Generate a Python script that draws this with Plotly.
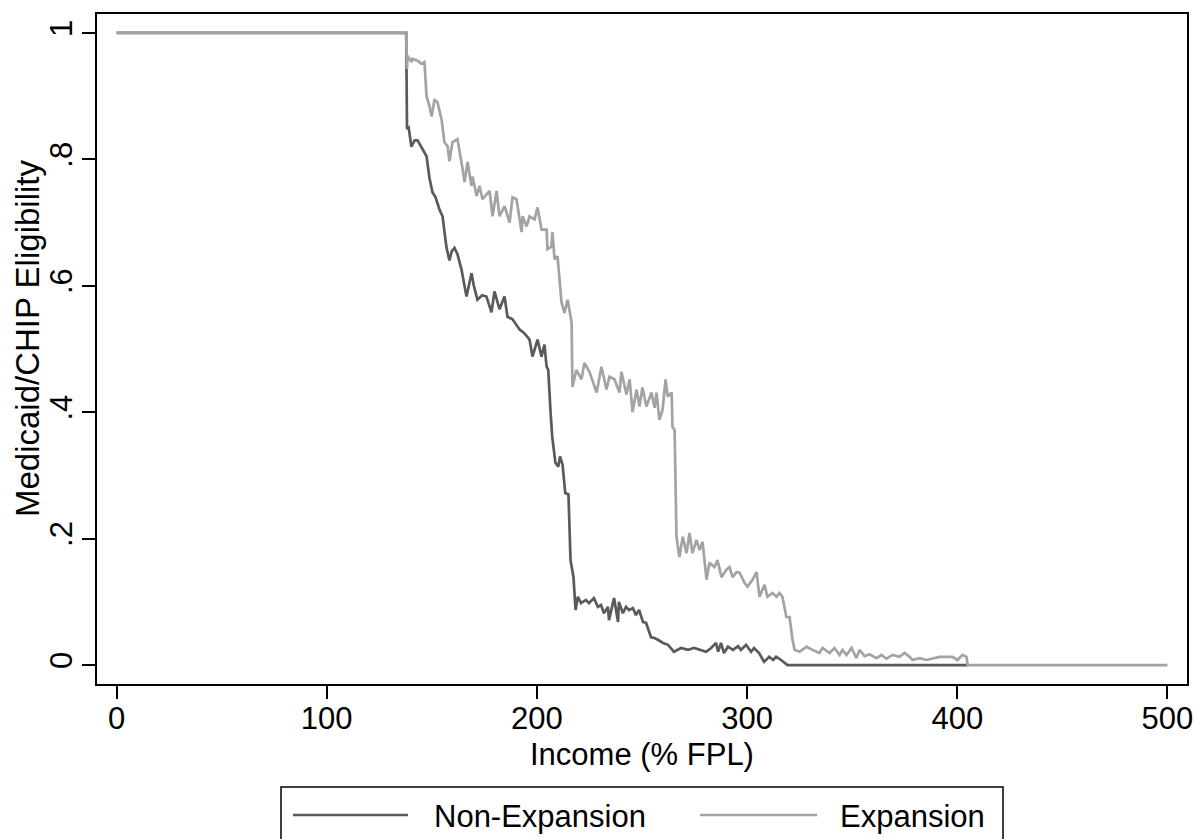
import plotly.graph_objects as go

# Non-Expansion states: eligibility share by income (% FPL)
nonexp_x = [0, 137.8, 138.2, 139.0, 140.3, 141.8, 143.2, 145.6, 147.5, 148.9, 150.3, 151.8, 153.7, 155.1,
            157.0, 158.4, 159.5, 160.8, 162.2, 164.1, 166.5, 168.9, 170.0, 171.7, 174.0, 176.0, 178.4,
            179.8, 182.2, 184.6, 186.0, 188.4, 190.0, 191.7, 194.0, 196.5, 197.9, 200.3, 202.2, 203.6,
            204.6, 205.4, 206.5, 207.3, 208.8, 210.2, 211.0, 212.2, 213.5, 215.0, 216.0, 217.4, 218.4,
            219.5, 221.0, 223.3, 224.8, 227.1, 229.0, 230.5, 231.9, 233.8, 234.3, 236.7, 238.6, 239.0,
            240.9, 242.4, 243.8, 245.7, 247.1, 248.6, 250.5, 251.9, 254.3, 255.7, 257.6, 260.0, 262.4,
            265.2, 268.6, 271.9, 274.8, 278.1, 280.5, 282.9, 285.2, 286.2, 287.6, 289.0, 290.9, 293.3,
            295.7, 297.1, 299.5, 301.9, 303.3, 305.7, 308.1, 310.5, 312.4, 313.8, 316.2, 319.2, 405.0]
nonexp_y = [1, 1, 0.848, 0.85, 0.82, 0.83, 0.83, 0.816, 0.805, 0.77, 0.748, 0.74, 0.72, 0.71,
            0.66, 0.64, 0.655, 0.66, 0.65, 0.626, 0.583, 0.62, 0.60, 0.578, 0.585, 0.583, 0.558,
            0.591, 0.563, 0.583, 0.551, 0.547, 0.54, 0.531, 0.525, 0.515, 0.488, 0.515, 0.488, 0.507,
            0.472, 0.467, 0.40, 0.361, 0.32, 0.314, 0.33, 0.317, 0.272, 0.27, 0.166, 0.139, 0.087,
            0.108, 0.098, 0.103, 0.098, 0.106, 0.092, 0.095, 0.082, 0.092, 0.071, 0.106, 0.068, 0.10,
            0.082, 0.092, 0.087, 0.09, 0.079, 0.087, 0.068, 0.067, 0.044, 0.043, 0.04, 0.035, 0.032,
            0.021, 0.027, 0.024, 0.027, 0.024, 0.021, 0.027, 0.035, 0.021, 0.035, 0.019, 0.029, 0.024,
            0.03, 0.024, 0.032, 0.021, 0.027, 0.019, 0.005, 0.013, 0.008, 0.013, 0.008, 0.0, 0.0]

# Expansion states
exp_x = [0, 137.8, 138.2, 138.4, 140.3, 140.8, 143.2, 145.1, 146.5, 147.5, 148.9, 149.9, 151.3, 152.7,
         154.6, 156.0, 157.5, 158.4, 159.8, 162.2, 164.1, 165.6, 167.0, 168.9, 169.4, 171.3, 172.7,
         174.1, 177.5, 178.9, 180.8, 182.2, 184.6, 187.0, 188.4, 190.3, 192.7, 193.2, 195.1, 196.5,
         198.9, 200.3, 202.2, 204.6, 205.0, 206.9, 207.4, 208.4, 209.8, 211.7, 213.1, 214.6, 216.5,
         216.9, 218.8, 221.2, 222.6, 225.0, 228.4, 230.7, 233.1, 234.5, 236.9, 239.3, 240.2, 242.6,
         244.1, 245.5, 247.4, 248.8, 250.2, 252.1, 254.5, 256.0, 256.9, 258.3, 259.8, 261.2, 262.2,
         264.1, 264.5, 265.5, 266.4, 267.8, 269.4, 271.2, 272.6, 274.0, 275.9, 277.4, 278.8, 280.7,
         282.1, 284.5, 285.9, 287.8, 290.2, 291.6, 293.1, 295.0, 296.4, 298.8, 300.2, 302.6, 304.5,
         305.9, 308.3, 309.7, 312.1, 314.0, 315.4, 316.8, 318.7, 320.2, 321.6, 322.6, 325.0, 328.3,
         331.1, 334.4, 335.9, 339.2, 341.6, 344.0, 345.4, 347.3, 349.7, 352.0, 353.5, 355.9, 358.2,
         361.6, 363.9, 366.3, 369.2, 372.5, 374.9, 377.3, 378.7, 382.0, 385.3, 388.2, 391.5, 394.9,
         397.7, 400.1, 402.5, 404.4, 404.9, 500.0]
exp_y = [1, 1, 0.943, 0.964, 0.954, 0.959, 0.956, 0.951, 0.954, 0.90, 0.884, 0.868, 0.895, 0.89,
         0.864, 0.827, 0.821, 0.797, 0.827, 0.832, 0.796, 0.764, 0.796, 0.758, 0.773, 0.742, 0.758,
         0.737, 0.75, 0.71, 0.75, 0.71, 0.726, 0.70, 0.74, 0.737, 0.685, 0.71, 0.694, 0.71,
         0.705, 0.724, 0.689, 0.689, 0.658, 0.662, 0.685, 0.642, 0.647, 0.574, 0.557, 0.578, 0.542,
         0.44, 0.467, 0.452, 0.478, 0.464, 0.431, 0.472, 0.436, 0.456, 0.452, 0.431, 0.464, 0.428,
         0.452, 0.40, 0.436, 0.409, 0.439, 0.409, 0.431, 0.407, 0.431, 0.388, 0.404, 0.452, 0.425,
         0.431, 0.377, 0.372, 0.203, 0.171, 0.203, 0.177, 0.209, 0.177, 0.198, 0.182, 0.195, 0.135,
         0.162, 0.155, 0.166, 0.139, 0.151, 0.155, 0.139, 0.147, 0.146, 0.13, 0.124, 0.135, 0.147,
         0.108, 0.127, 0.108, 0.114, 0.108, 0.114, 0.108, 0.076, 0.076, 0.04, 0.024, 0.021, 0.029,
         0.024, 0.019, 0.027, 0.019, 0.027, 0.016, 0.024, 0.016, 0.027, 0.011, 0.024, 0.014, 0.017,
         0.011, 0.016, 0.01, 0.016, 0.013, 0.019, 0.013, 0.008, 0.011, 0.008, 0.01, 0.013, 0.013,
         0.013, 0.008, 0.016, 0.013, 0.0, 0.0]

series_names = ["Non-Expansion", "Expansion"]
series_colors = ["#5a5a5a", "#a3a3a3"]

x_ticks = [0, 100, 200, 300, 400, 500]
y_ticks = [0, 0.2, 0.4, 0.6, 0.8, 1.0]
y_tick_labels = ["0", ".2", ".4", ".6", ".8", "1"]
x_title = "Income (% FPL)"
y_title = "Medicaid/CHIP Eligibility"

FONT = "Liberation Sans, Arial, Helvetica, sans-serif"

fig = go.Figure()
fig.add_trace(go.Scatter(x=nonexp_x, y=nonexp_y, mode="lines", name=series_names[0],
                         line=dict(color=series_colors[0], width=2.7), showlegend=False))
fig.add_trace(go.Scatter(x=exp_x, y=exp_y, mode="lines", name=series_names[1],
                         line=dict(color=series_colors[1], width=2.7), showlegend=False))

axis_common = dict(showgrid=False, zeroline=False, showline=True, linecolor="black", linewidth=1.5,
                   mirror=True, ticks="outside", ticklen=13, tickwidth=1.5, tickcolor="black",
                   tickfont=dict(family=FONT, size=31, color="black"), automargin=False)

# Stata-style legend box below the plot (partly cut by the bottom edge), in paper coordinates
legend_box = dict(x0=0.1688, x1=0.8312, y0=-0.1537, y1=-0.26)
legend_y = -0.1955
legend_samples = [(0.1798, 0.2853), (0.5532, 0.6606)]
legend_text_x = [0.3073, 0.6798]

shapes = [dict(type="rect", xref="paper", yref="paper", x0=legend_box["x0"], x1=legend_box["x1"],
               y0=legend_box["y0"], y1=legend_box["y1"], line=dict(color="black", width=1.5),
               fillcolor="white", layer="above")]
annotations = []
for (sx0, sx1), tx, name, col in zip(legend_samples, legend_text_x, series_names, series_colors):
    shapes.append(dict(type="line", xref="paper", yref="paper", x0=sx0, x1=sx1, y0=legend_y, y1=legend_y,
                       line=dict(color=col, width=2.7)))
    annotations.append(dict(xref="paper", yref="paper", x=tx, y=legend_y - 0.003, text=name,
                            showarrow=False, xanchor="left", yanchor="middle",
                            font=dict(family=FONT, size=31, color="black")))

# axis titles (placed like the Stata original)
annotations.append(dict(xref="paper", yref="paper", x=0.5, y=-0.1045, text=x_title, showarrow=False,
                        xanchor="center", yanchor="middle", font=dict(family=FONT, size=31, color="black")))
annotations.append(dict(xref="paper", yref="paper", x=-0.0642, y=0.5164, text=y_title, showarrow=False,
                        textangle=-90, xanchor="center", yanchor="middle",
                        font=dict(family=FONT, size=33, color="black")))

fig.update_layout(
    width=1195, height=839,
    margin=dict(l=97, r=8, t=14, b=155),
    paper_bgcolor="white", plot_bgcolor="white",
    font=dict(family=FONT, size=31, color="black"),
    xaxis=dict(range=[-9.3, 509.3], tickvals=x_ticks, ticklabelstandoff=-7, **axis_common),
    yaxis=dict(range=[-0.030, 1.030], tickvals=y_ticks, ticktext=y_tick_labels, tickangle=-90,
               ticklabelstandoff=-2, **axis_common),
    showlegend=False,
    shapes=shapes,
    annotations=annotations,
)

fig.write_html("out.html")
